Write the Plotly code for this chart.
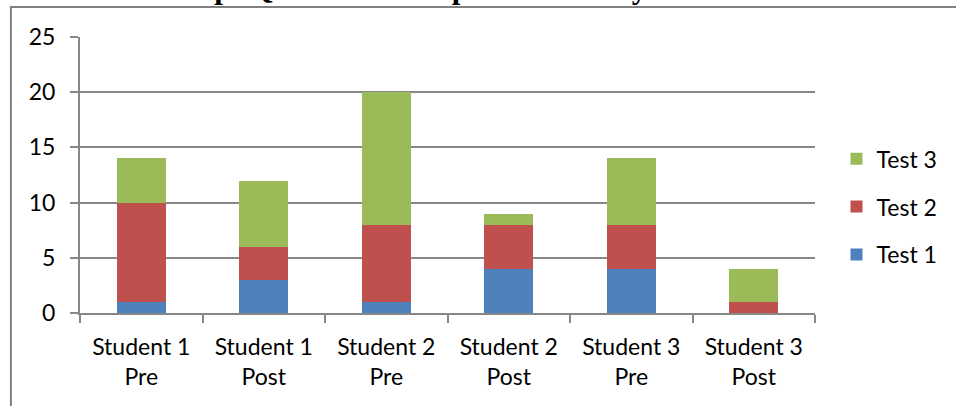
import plotly.graph_objects as go

categories = ["Student 1<br>Pre", "Student 1<br>Post", "Student 2<br>Pre",
              "Student 2<br>Post", "Student 3<br>Pre", "Student 3<br>Post"]
test1 = [1, 3, 1, 4, 4, 0]
test2 = [9, 3, 7, 4, 4, 1]
test3 = [4, 6, 12, 1, 6, 3]
y_ticks = [0, 5, 10, 15, 20, 25]

series = [("Test 1", test1, "#4F81BD"),
          ("Test 2", test2, "#C0504D"),
          ("Test 3", test3, "#9BBB59")]

FONT = "Lato"
GRID = "#878787"

fig = go.Figure()
for i, (name, vals, color) in enumerate(series):
    fig.add_trace(go.Bar(
        x=categories, y=vals, name=name, legendgroup=name,
        legendrank=10 - i,  # top series listed first
        marker=dict(color=color, line=dict(width=0)),
    ))

fig.update_layout(
    width=956, height=406,
    margin=dict(l=80, r=141, t=37, b=93),
    barmode="stack", bargap=0.6,
    plot_bgcolor="white", paper_bgcolor="white",
    font=dict(family=FONT, size=23, color="black"),
    showlegend=True,
    legend=dict(
        xref="container", yref="container",
        x=0.875, y=0.662, xanchor="left", yanchor="top",
        tracegroupgap=15,
        font=dict(family=FONT, size=23, color="black"),
        itemwidth=30, bgcolor="rgba(0,0,0,0)",
    ),
    xaxis=dict(
        showline=True, linecolor=GRID, linewidth=2,
        ticks="outside", ticklen=8, tickcolor=GRID, tickwidth=2,
        tickson="boundaries", showgrid=False,
        ticklabelstandoff=12,
        tickfont=dict(family=FONT, size=23, color="black"),
    ),
    yaxis=dict(
        range=[0, 25], tickvals=y_ticks, showgrid=True,
        gridcolor=GRID, gridwidth=2, zeroline=False,
        showline=True, linecolor=GRID, linewidth=2,
        ticks="outside", ticklen=8, tickcolor=GRID, tickwidth=2,
        ticklabelstandoff=10,
        tickfont=dict(family=FONT, size=23, color="black"),
    ),
)

# Outer frame around the chart area
fig.add_shape(type="path", xref="paper", yref="paper",
              path="M -0.094,-0.5 L -0.094,1.109 L 1.25,1.109",
              line=dict(color="#808080", width=2), layer="below")

# Heading sitting above the frame
fig.add_annotation(
    text="<b>Chart 1: Concept Questions Comparative Analysis Pre and Post</b>",
    xref="paper", yref="paper", x=-0.096, y=1.108, xanchor="left", yanchor="bottom",
    showarrow=False, font=dict(family="Liberation Serif", size=31, color="black"),
)

fig.write_html("out.html")
